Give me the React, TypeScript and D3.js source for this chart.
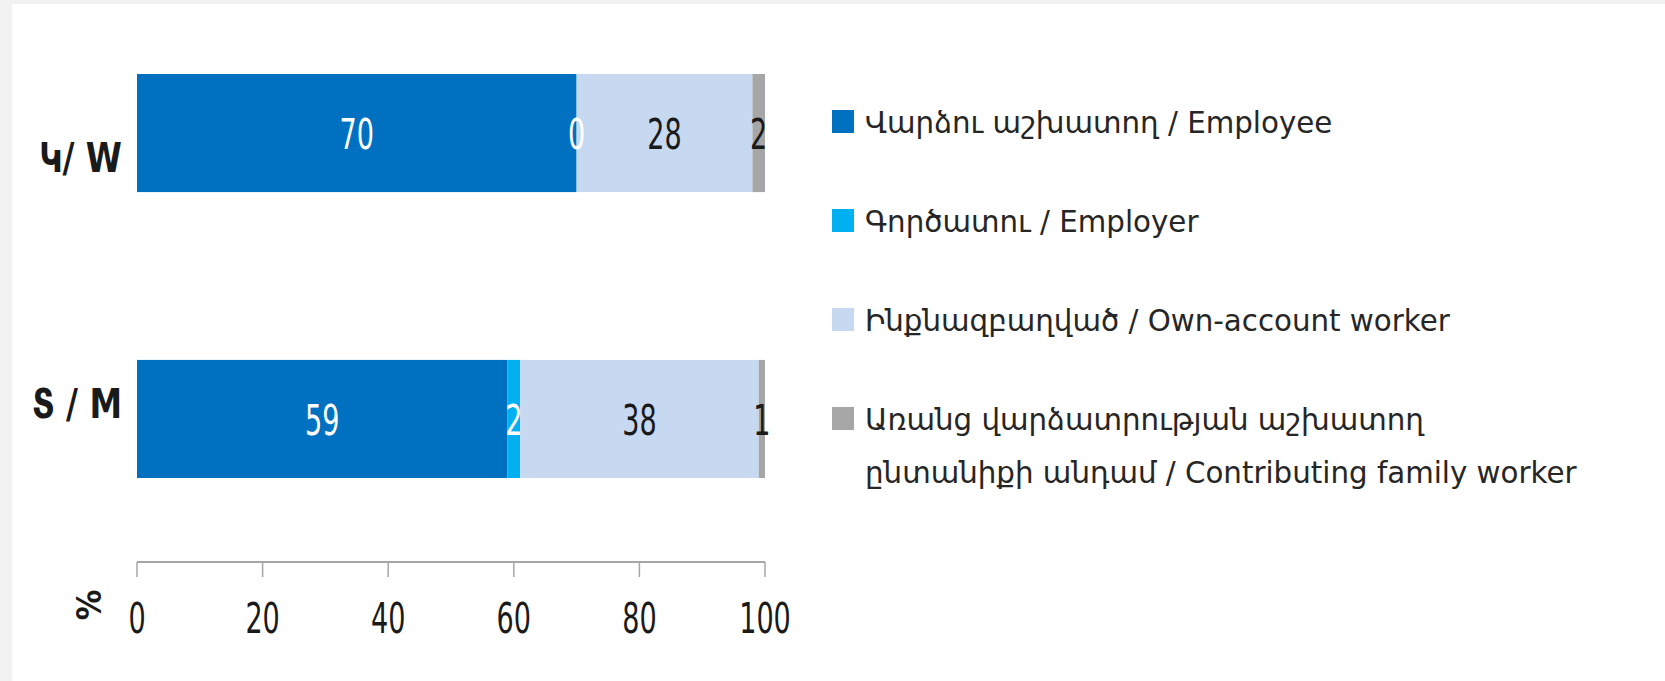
import React from "react"
import * as d3 from "d3"

const categories = ["Կ/ W", "Տ / M"]
const seriesKeys = ["employee", "employer", "own", "family"]
const seriesLabels = [
  ["Վարձու աշխատող / Employee"],
  ["Գործատու / Employer"],
  ["Ինքնազբաղված / Own-account worker"],
  ["Առանց վարձատրության աշխատող", "ընտանիքի անդամ / Contributing family worker"],
]
const employee = [70, 59]
const employer = [0, 2]
const ownAccount = [28, 38]
const family = [2, 1]
const xTicks = [0, 20, 40, 60, 80, 100]

const colors = ["#0070c0", "#00b0f0", "#c6d9f1", "#a6a6a6"]
const labelColors = ["#ffffff", "#ffffff", "#1a1a1a", "#1a1a1a"]

const numFont = "'DejaVu Sans Condensed', sans-serif"
const legendFont = "'DejaVu Sans', sans-serif"
const narrow = 0.7

const App = () => {
  const width = 1665
  const height = 681

  const rows = categories.map((c, i) => ({
    cat: c,
    employee: employee[i],
    employer: employer[i],
    own: ownAccount[i],
    family: family[i],
  }))
  const stacked = d3.stack().keys(seriesKeys)(rows)

  const x = d3.scaleLinear().domain([0, 100]).range([137, 765])
  const y = d3
    .scaleBand()
    .domain(categories)
    .range([74, 478])
    .paddingInner(0.587)
    .paddingOuter(0)
  const legendY = d3.scalePoint().domain(seriesKeys).range([133, 430])

  const axisY = 562
  // category labels sit off-centre in the original
  const catBaseline = [172, 418]

  return (
    <div style={{ position: "absolute", left: 0, top: 0 }}>
      <svg width={width} height={height} style={{ display: "block" }}>
        <rect x={0} y={0} width={width} height={height} fill="#f2f2f2" />
        <rect x={12} y={4} width={width - 12} height={height - 4} fill="#ffffff" />

        {stacked.map((s, si) =>
          s.map((d, i) => (
            <rect
              key={si + "-" + i}
              x={x(d[0])}
              y={y(categories[i])}
              width={x(d[1]) - x(d[0])}
              height={y.bandwidth()}
              fill={colors[si]}
            />
          ))
        )}

        {stacked.map((s, si) =>
          s.map((d, i) => (
            <text
              key={"l" + si + "-" + i}
              transform={`translate(${x((d[0] + d[1]) / 2)},${
                y(categories[i]) + y.bandwidth() / 2 + 16
              }) scale(${narrow},1)`}
              textAnchor="middle"
              fontFamily={numFont}
              fontSize={43}
              fill={labelColors[si]}
            >
              {d[1] - d[0]}
            </text>
          ))
        )}

        {categories.map((c, i) => (
          <text
            key={c}
            transform={`translate(122,${catBaseline[i]}) scale(0.91,1)`}
            textAnchor="end"
            fontFamily={numFont}
            fontWeight="bold"
            fontSize={40}
            fill="#1a1a1a"
          >
            {c}
          </text>
        ))}

        <line x1={x(0)} x2={x(100)} y1={axisY} y2={axisY} stroke="#a6a6a6" strokeWidth={2} />
        {xTicks.map((t) => (
          <g key={t}>
            <line x1={x(t)} x2={x(t)} y1={axisY} y2={axisY + 15} stroke="#a6a6a6" strokeWidth={1.5} />
            <text
              transform={`translate(${x(t)},633) scale(${narrow},1)`}
              textAnchor="middle"
              fontFamily={numFont}
              fontSize={43}
              fill="#1a1a1a"
            >
              {t}
            </text>
          </g>
        ))}
        <text
          transform="translate(101,605) rotate(-90)"
          textAnchor="middle"
          fontFamily={numFont}
          fontWeight="bold"
          fontSize={34}
          fill="#1a1a1a"
        >
          %
        </text>

        {seriesKeys.map((k, si) => (
          <g key={k}>
            <rect x={832} y={legendY(k) - 23} width={22} height={23} fill={colors[si]} />
            {seriesLabels[si].map((line, li) => (
              <text
                key={li}
                x={865}
                y={legendY(k) + li * 53}
                fontFamily={legendFont}
                fontSize={29.3}
                fill="#262626"
              >
                {line}
              </text>
            ))}
          </g>
        ))}
      </svg>
    </div>
  )
}

export default App
